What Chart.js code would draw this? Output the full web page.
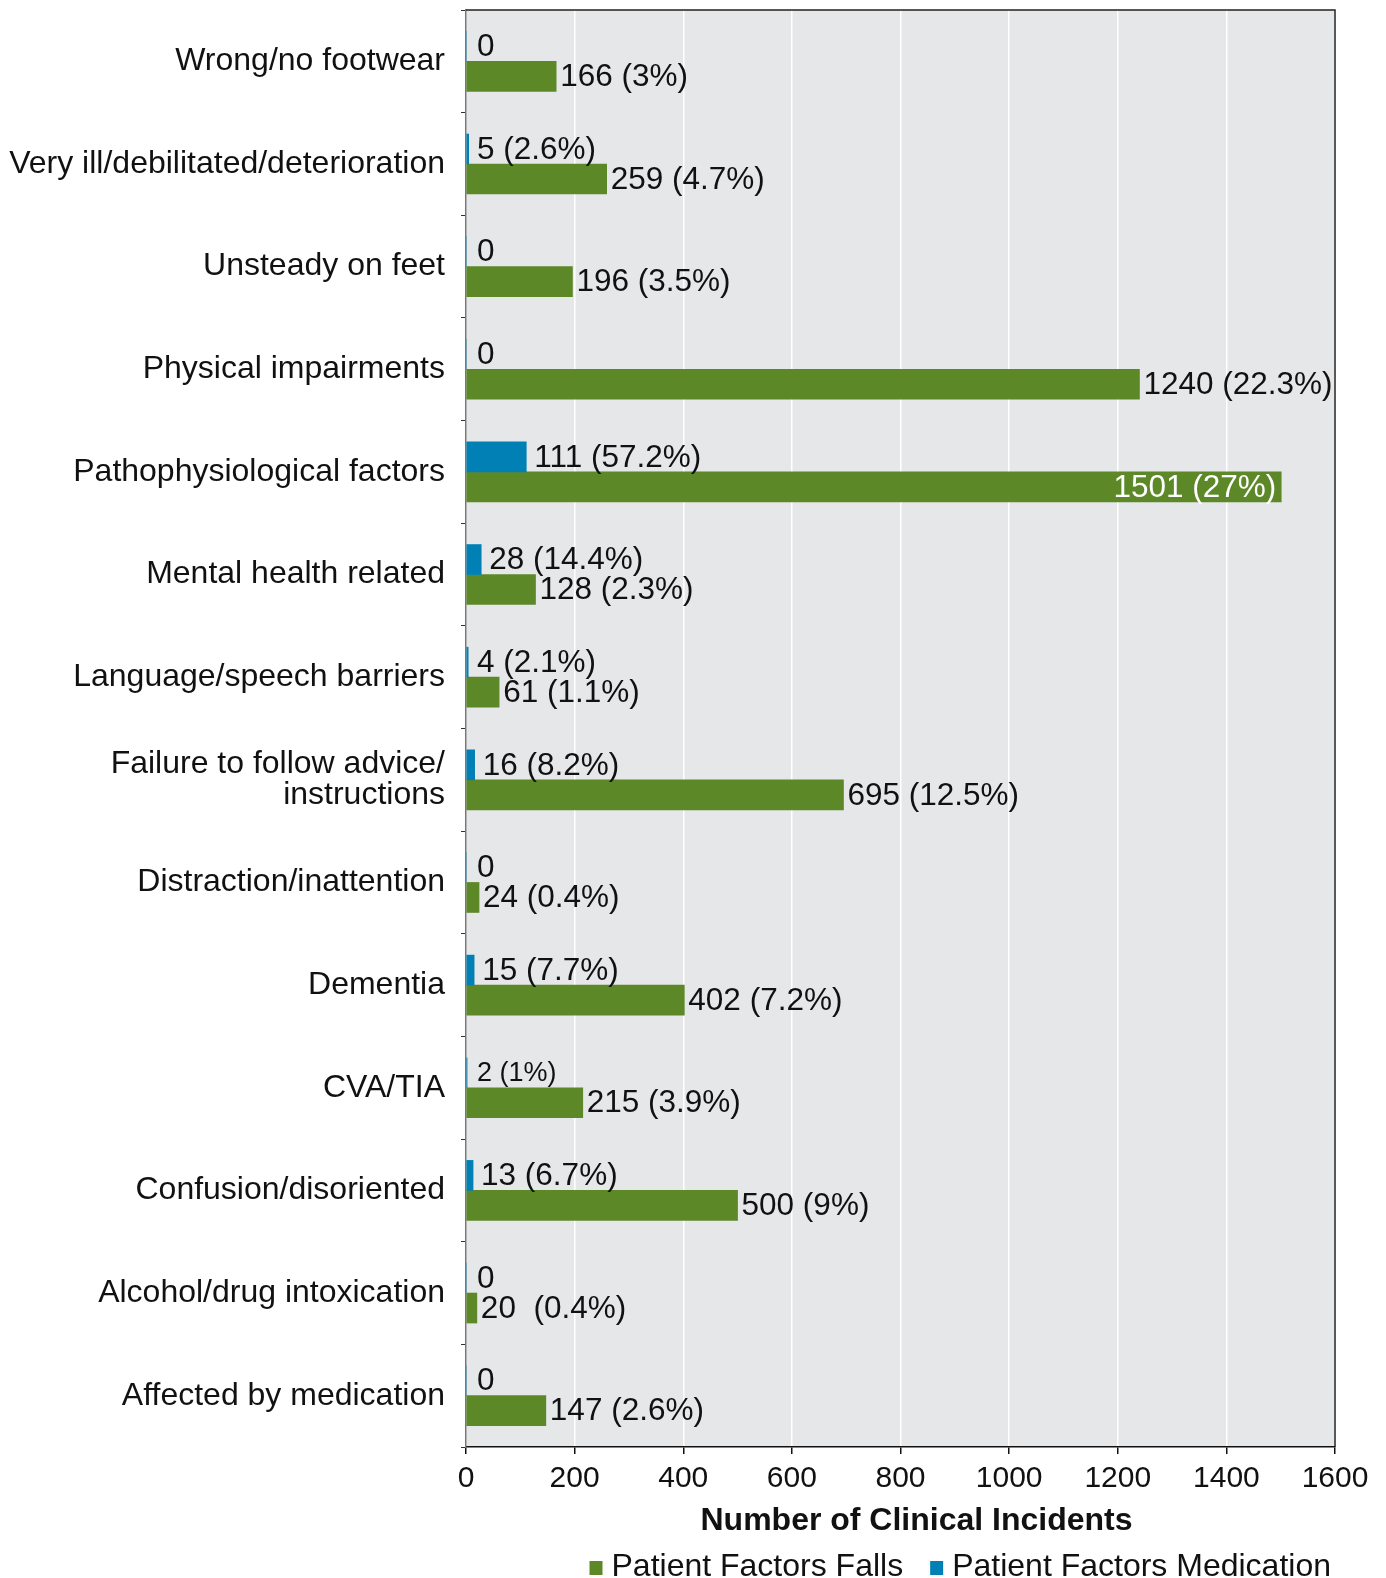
<!DOCTYPE html>
<html>
<head>
<meta charset="utf-8">
<script src="https://cdn.jsdelivr.net/npm/chart.js@4.4.1/dist/chart.umd.min.js"></script>
<style>
  html, body { margin: 0; padding: 0; background: #fff; overflow: hidden; }
  canvas { display: block; }
</style>
</head>
<body>
<canvas id="chart" width="1386" height="1578"></canvas>
<script>
const categories = [
    'Wrong/no footwear',
    'Very ill/debilitated/deterioration',
    'Unsteady on feet',
    'Physical impairments',
    'Pathophysiological factors',
    'Mental health related',
    'Language/speech barriers',
    ['Failure to follow advice/', 'instructions'],
    'Distraction/inattention',
    'Dementia',
    'CVA/TIA',
    'Confusion/disoriented',
    'Alcohol/drug intoxication',
    'Affected by medication'
];
const fallsValues = [166, 259, 196, 1240, 1501, 128, 61, 695, 24, 402, 215, 500, 20, 147];
const fallsLabels = ['166 (3%)', '259 (4.7%)', '196 (3.5%)', '1240 (22.3%)', '1501 (27%)', '128 (2.3%)',
    '61 (1.1%)', '695 (12.5%)', '24 (0.4%)', '402 (7.2%)', '215 (3.9%)', '500 (9%)', '20  (0.4%)', '147 (2.6%)'];
const medValues = [0, 5, 0, 0, 111, 28, 4, 16, 0, 15, 2, 13, 0, 0];
const medLabels = ['0', '5 (2.6%)', '0', '0', '111 (57.2%)', '28 (14.4%)', '4 (2.1%)', '16 (8.2%)',
    '0', '15 (7.7%)', '2 (1%)', '13 (6.7%)', '0', '0'];
const xTicks = [0, 200, 400, 600, 800, 1000, 1200, 1400, 1600];
const xTitle = 'Number of Clinical Incidents';

const FONT = '"Liberation Sans", Arial, Helvetica, sans-serif';
const GREEN = '#5c8828';
const BLUE = '#0080b4';
const smallLabelCats = ['CVA/TIA'];

const plotBg = {
    id: 'plotBg',
    beforeDraw(chart) {
        const { ctx, chartArea: a } = chart;
        ctx.save();
        ctx.fillStyle = '#e6e7e9';
        ctx.fillRect(a.left, a.top, a.right - a.left, a.bottom - a.top);
        ctx.restore();
    },
    afterDraw(chart) {
        const { ctx, chartArea: a } = chart;
        ctx.save();
        ctx.strokeStyle = '#222';
        ctx.lineWidth = 1.5;
        ctx.beginPath();
        ctx.moveTo(a.left, a.top);
        ctx.lineTo(a.right, a.top);
        ctx.lineTo(a.right, a.bottom);
        ctx.stroke();
        // axis title, sits a little right of the plot centre in the original
        ctx.fillStyle = '#111';
        ctx.font = 'bold 32px ' + FONT;
        ctx.textAlign = 'center';
        ctx.textBaseline = 'middle';
        ctx.fillText(xTitle, (a.left + a.right) / 2 + 16, a.bottom + 74);
        ctx.restore();
    }
};

const barLabels = {
    id: 'barLabels',
    afterDatasetsDraw(chart) {
        const { ctx, chartArea: a } = chart;
        ctx.save();
        ctx.textBaseline = 'middle';
        chart.data.datasets.forEach((ds, di) => {
            const meta = chart.getDatasetMeta(di);
            meta.data.forEach((bar, i) => {
                const txt = ds.labelTexts[i];
                const cat = [].concat(categories[i]).join(' ');
                const size = smallLabelCats.includes(cat) && ds.isMed ? 27 : 31.5;
                ctx.font = size + 'px ' + FONT;
                const w = ctx.measureText(txt).width;
                let x = ds.isMed ? Math.max(bar.x + 8, a.left + 11) : bar.x + 4;
                if (x + w > a.right + 10) {
                    ctx.fillStyle = '#fff';
                    ctx.textAlign = 'right';
                    ctx.fillText(txt, bar.x - 5, bar.y + 1);
                } else {
                    ctx.fillStyle = '#111';
                    ctx.textAlign = 'left';
                    ctx.fillText(txt, x, bar.y + 1);
                }
            });
        });
        ctx.restore();
    }
};

const bottomLegend = {
    id: 'bottomLegend',
    afterDraw(chart) {
        const { ctx, chartArea: a } = chart;
        const items = [chart.data.datasets[1], chart.data.datasets[0]];
        ctx.save();
        ctx.font = '32px ' + FONT;
        ctx.textBaseline = 'middle';
        ctx.textAlign = 'left';
        const box = 13, gap = 9, itemGap = 27;
        let total = 0;
        items.forEach((ds, k) => {
            total += box + gap + ctx.measureText(ds.label).width + (k ? 0 : itemGap);
        });
        let x = a.right - 4 - total;
        const y = 1567;
        items.forEach(ds => {
            ctx.fillStyle = ds.backgroundColor;
            ctx.fillRect(x, y - 6, box, 14);
            x += box + gap;
            ctx.fillStyle = '#111';
            ctx.fillText(ds.label, x, y);
            x += ctx.measureText(ds.label).width + itemGap;
        });
        ctx.restore();
    }
};

new Chart(document.getElementById('chart'), {
    type: 'bar',
    data: {
        labels: categories,
        datasets: [
            { label: 'Patient Factors Medication', data: medValues, labelTexts: medLabels, isMed: true,
              backgroundColor: BLUE, barThickness: 30 },
            { label: 'Patient Factors Falls', data: fallsValues, labelTexts: fallsLabels, isMed: false,
              backgroundColor: GREEN, barThickness: 30 }
        ]
    },
    options: {
        indexAxis: 'y',
        responsive: false,
        devicePixelRatio: 1,
        animation: false,
        layout: { padding: { top: 10, right: 51, bottom: 33, left: 0 } },
        plugins: {
            legend: { display: false },
            tooltip: { enabled: false }
        },
        scales: {
            x: {
                min: 0,
                max: 1600,
                afterBuildTicks(scale) { scale.ticks = xTicks.map(v => ({ value: v })); },
                afterFit(scale) { scale.height = 98; scale.paddingLeft = 0; scale.paddingRight = 0; },
                grid: { color: '#ffffff', lineWidth: 1.5, tickColor: '#111', tickLength: 7 },
                border: { color: '#111', width: 1.5 },
                ticks: { color: '#111', padding: 7, font: { family: FONT, size: 30 }, callback: v => String(v) }
            },
            y: {
                afterFit(scale) { scale.width = 466; scale.paddingTop = 0; scale.paddingBottom = 0; },
                grid: { drawOnChartArea: false, offset: true, tickColor: '#333', tickLength: 5 },
                border: { color: '#777', width: 1.5 },
                ticks: { color: '#111', padding: 16, font: { family: FONT, size: 32, lineHeight: 0.95 } }
            }
        }
    },
    plugins: [plotBg, barLabels, bottomLegend]
});
</script>
</body>
</html>
